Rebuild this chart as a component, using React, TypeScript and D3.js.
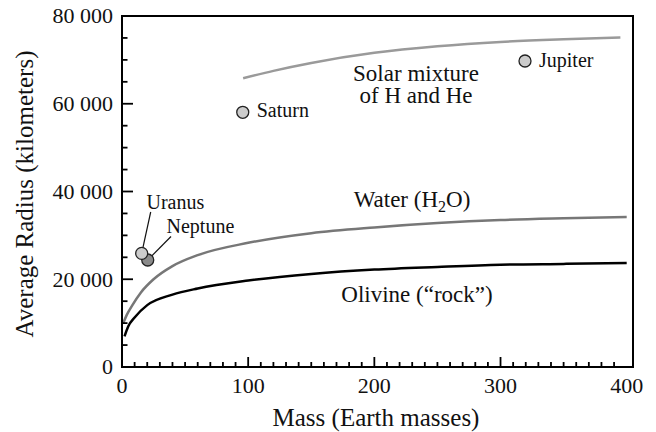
import React from "react";
import * as d3 from "d3";

const W = 656;
const H = 432;

const xTickLabels = [0, 100, 200, 300, 400];
const yTickLabels = [0, 20000, 40000, 60000, 80000];

const olivineMass = [2, 5, 10, 20, 40, 60, 100, 150, 200, 250, 300, 350, 400];
const olivineRadius = [7000, 9300, 11300, 14100, 16500, 17900, 19700, 21200, 22200, 22800, 23300, 23500, 23700];

const waterMass = [1, 4, 8, 15, 25, 40, 60, 100, 150, 200, 250, 300, 350, 400];
const waterRadius = [10000, 12000, 14000, 17000, 20000, 23000, 25500, 28300, 30500, 31800, 32800, 33500, 33900, 34200];

const hheMass = [96, 120, 150, 200, 250, 300, 350, 395];
const hheRadius = [65800, 67500, 69300, 71600, 73100, 74100, 74700, 75100];

// drawn in this order (Neptune beneath Uranus)
const planetNames = ["Saturn", "Jupiter", "Neptune", "Uranus"];
const planetMass = [95.7, 319.4, 20.4, 15.6];
const planetRadius = [58050, 69740, 24390, 25900];
const planetFill = ["#cccccc", "#cccccc", "#8a8a8a", "#cccccc"];

const FONT = '"Times New Roman", Times, "Liberation Serif", Tinos, "Nimbus Roman", FreeSerif, "Noto Serif", "DejaVu Serif", serif';

export default function App() {
  const x = d3.scaleLinear().domain([0, 405]).range([122, 633]);
  const y = d3.scaleLinear().domain([0, 80000]).range([367, 16]);

  const line = d3
    .line<[number, number]>()
    .x((d) => x(d[0]))
    .y((d) => y(d[1]))
    .curve(d3.curveMonotoneX);

  const zip = (a: number[], b: number[]) => a.map((v, i) => [v, b[i]] as [number, number]);

  const xMinor = d3.range(10, 400, 10);
  const yMinor = d3.range(5000, 80000, 5000);

  const fmtY = (v: number) => (v === 0 ? "0" : `${v / 1000} 000`);

  const pt = (i: number) => [x(planetMass[i]), y(planetRadius[i])];

  const [sx, sy] = pt(0);
  const [jx, jy] = pt(1);
  const [nx, ny] = pt(2);
  const [ux, uy] = pt(3);

  const ts = { fontFamily: FONT };

  return (
    <svg
      width={W}
      height={H}
      style={{ position: "absolute", left: 0, top: 0, background: "#fff", fontFamily: FONT }}
    >
      <rect width={W} height={H} fill="#fff" />
      {/* curves */}
      <path d={line(zip(hheMass, hheRadius)) || ""} fill="none" stroke="#9a9a9a" strokeWidth={2.5} />
      <path d={line(zip(waterMass, waterRadius)) || ""} fill="none" stroke="#777777" strokeWidth={2.5} />
      <path d={line(zip(olivineMass, olivineRadius)) || ""} fill="none" stroke="#000" strokeWidth={2.5} />

      {/* frame */}
      <rect x={122} y={16} width={633 - 122} height={367 - 16} fill="none" stroke="#000" strokeWidth={2} />

      {/* x ticks */}
      {xMinor.map((v) => (
        <line key={"xm" + v} x1={x(v)} x2={x(v)} y1={367} y2={v % 100 === 0 ? 357 : 362} stroke="#000" strokeWidth={1.8} />
      ))}
      {xTickLabels.map((v) => (
        <text key={"xl" + v} x={x(v)} y={393} fontSize={22} textAnchor="middle" fill="#111" style={ts}>
          {v}
        </text>
      ))}
      {/* y ticks */}
      {yMinor.map((v) => (
        <line key={"ym" + v} x1={122} x2={v % 20000 === 0 ? 133 : 127.5} y1={y(v)} y2={y(v)} stroke="#000" strokeWidth={1.8} />
      ))}
      {yTickLabels.map((v) => (
        <text key={"yl" + v} x={113} y={y(v)} dy="0.34em" fontSize={22} textAnchor="end" fill="#111" style={ts}>
          {fmtY(v)}
        </text>
      ))}

      {/* axis titles */}
      <text x={376} y={426} fontSize={25} textAnchor="middle" fill="#111" style={ts}>
        Mass (Earth masses)
      </text>
      <text transform={`translate(33,194) rotate(-90)`} fontSize={25} textAnchor="middle" fill="#111" style={ts}>
        Average Radius (kilometers)
      </text>

      {/* leader lines */}
      <line x1={150.7} y1={212} x2={ux} y2={uy} stroke="#111" strokeWidth={1.2} />
      <line x1={171} y1={236.5} x2={nx} y2={ny} stroke="#111" strokeWidth={1.2} />

      {/* planets */}
      {planetNames.map((n, i) => {
        const [px, py] = pt(i);
        return <circle key={n} cx={px} cy={py} r={6} fill={planetFill[i]} stroke="#222" strokeWidth={1.3} />;
      })}
      <text x={sx + 14} y={sy + 5} fontSize={20} fill="#111" style={ts}>Saturn</text>
      <text x={jx + 14} y={jy + 5.5} fontSize={20} fill="#111" style={ts}>Jupiter</text>
      <text x={146.5} y={209} fontSize={20} fill="#111" style={ts}>Uranus</text>
      <text x={166.5} y={233} fontSize={20} fill="#111" style={ts}>Neptune</text>

      {/* annotations */}
      <text x={416} y={81} fontSize={23} textAnchor="middle" fill="#111" style={ts}>Solar mixture</text>
      <text x={416} y={103} fontSize={23} textAnchor="middle" fill="#111" style={ts}>of H and He</text>
      <text x={412} y={207} fontSize={23} textAnchor="middle" fill="#111" style={ts}>
        Water (H<tspan dy={5} fontSize={16}>2</tspan>
        <tspan dy={-5}>O)</tspan>
      </text>
      <text x={417} y={302} fontSize={23} textAnchor="middle" fill="#111" style={ts}>Olivine (“rock”)</text>
    </svg>
  );
}
